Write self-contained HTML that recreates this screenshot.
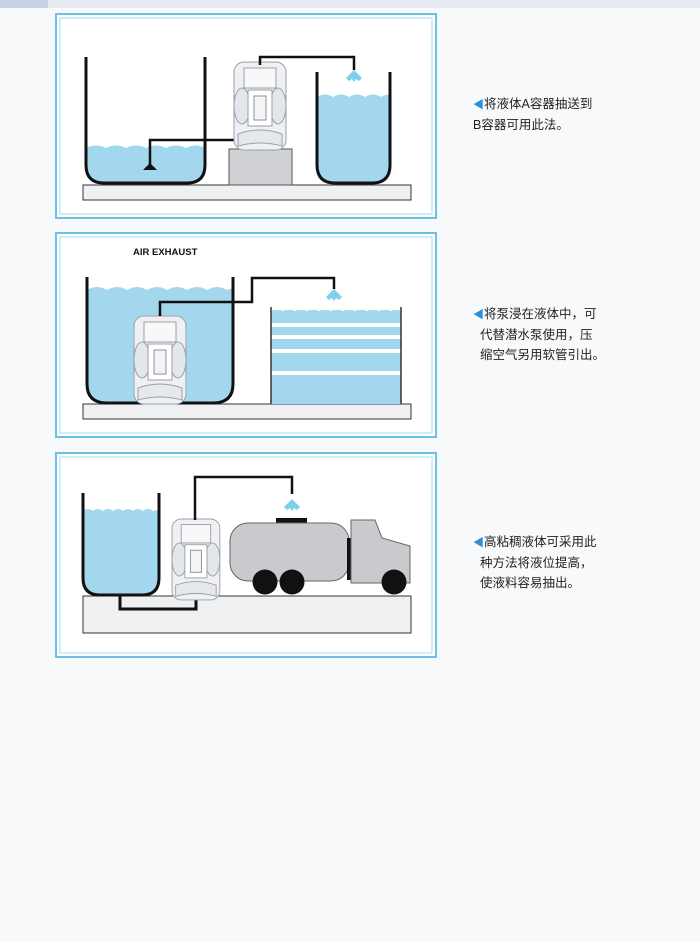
<!DOCTYPE html>
<html><head><meta charset="utf-8"><style>
html,body{margin:0;padding:0;width:700px;height:942px;background:#f8f9fb;overflow:hidden}
.t{position:absolute;left:473px;font:12.5px "Liberation Sans","Noto Sans CJK SC",sans-serif;color:#222;line-height:20px}
.a{color:#2a8fd8;font-size:11px}
</style></head><body>
<svg width="700" height="942" style="position:absolute;left:0;top:0">
<defs>
<g id="pump">
<rect x="0" y="0" width="52" height="88" rx="10" fill="#eef0f3" stroke="#9aa0a8" stroke-width="1"/>
<rect x="10" y="6" width="32" height="20" fill="#f8f8f8" stroke="#9aa0a8"/>
<ellipse cx="8" cy="44" rx="8" ry="18" fill="#e3e6ea" stroke="#9aa0a8"/>
<ellipse cx="44" cy="44" rx="8" ry="18" fill="#e3e6ea" stroke="#9aa0a8"/>
<rect x="14" y="28" width="24" height="36" fill="#fff" stroke="#9aa0a8"/>
<rect x="20" y="34" width="12" height="24" fill="#f4f4f4" stroke="#8a9098"/>
<path d="M4 72 Q26 64 48 72 L48 84 Q26 78 4 84Z" fill="#e6e8ec" stroke="#9aa0a8"/>
</g>
<path id="spray" d="M0 0 L-8 8 L-5 11 L-2 9 L0 12 L2 9 L5 11 L8 8Z" fill="#7fd0ea"/>
</defs>
<rect x="0" y="0" width="700" height="8" fill="#e6ebf3"/>
<rect x="0" y="0" width="48" height="8" fill="#c5d2ea"/>

<!-- Panel 1 -->
<rect x="56" y="14" width="380" height="204" fill="#fff" stroke="#6cc0e4" stroke-width="2"/>
<rect x="60" y="18" width="372" height="196" fill="none" stroke="#a6dbef" stroke-width="1"/>
<rect x="83" y="185" width="328" height="15" fill="#eef0f2" stroke="#333" stroke-width="1"/>
<path d="M86 148 Q96 143 106 148 Q116 143 126 148 Q136 143 146 148 Q156 143 166 148 Q176 143 186 148 Q196 143 205 148 V165 Q205 183 187 183 H104 Q86 183 86 165Z" fill="#a3d7ee"/>
<path d="M86 57 V165 Q86 183 104 183 H187 Q205 183 205 165 V57" fill="none" stroke="#111" stroke-width="3"/>
<path d="M150 168 V140 H262" fill="none" stroke="#111" stroke-width="2.5"/>
<path d="M143 170 L150 163 L157 170Z" fill="#111"/>
<rect x="229" y="149" width="63" height="36" fill="#cfd1d4" stroke="#555"/>
<use href="#pump" x="234" y="62"/>
<path d="M260 65 V57 H354 V70" fill="none" stroke="#111" stroke-width="2.5"/>
<use href="#spray" x="354" y="70"/>
<path d="M317 97 Q325 92 333 97 Q341 92 349 97 Q357 92 365 97 Q373 92 381 97 Q387 93 390 96 V165 Q390 183 372 183 H335 Q317 183 317 165Z" fill="#a3d7ee"/>
<path d="M317 72 V165 Q317 183 335 183 H372 Q390 183 390 165 V72" fill="none" stroke="#111" stroke-width="3"/>

<!-- Panel 2 -->
<rect x="56" y="233" width="380" height="204" fill="#fff" stroke="#6cc0e4" stroke-width="2"/>
<rect x="60" y="237" width="372" height="196" fill="none" stroke="#a6dbef" stroke-width="1"/>
<text x="133" y="255" font-family="Liberation Sans,sans-serif" font-weight="bold" font-size="9.5" fill="#111">AIR EXHAUST</text>
<rect x="83" y="404" width="328" height="15" fill="#eef0f2" stroke="#333"/>
<path d="M87 290 Q97 284 107 290 Q117 284 127 290 Q137 284 147 290 Q157 284 167 290 Q177 284 187 290 Q197 284 207 290 Q217 284 227 290 L233 288 V384 Q233 403 213 403 H107 Q87 403 87 384Z" fill="#a3d7ee"/>
<path d="M87 277 V384 Q87 403 107 403 H213 Q233 403 233 384 V277" fill="none" stroke="#111" stroke-width="3"/>
<use href="#pump" x="134" y="316"/>
<path d="M160 316 V302 H252 V278 H334 V289" fill="none" stroke="#111" stroke-width="2.5"/>
<use href="#spray" x="334" y="289"/>
<rect x="271" y="310" width="130" height="94" fill="#a3d7ee"/>
<path d="M271 310 Q277 306 283 310 Q289 306 295 310 Q301 306 307 310 Q313 306 319 310 Q325 306 331 310 Q337 306 343 310 Q349 306 355 310 Q361 306 367 310 Q373 306 379 310 Q385 306 391 310 Q397 306 401 310" fill="none" stroke="#fff" stroke-width="2"/>
<rect x="271" y="323" width="130" height="4" fill="#fff"/>
<rect x="271" y="335" width="130" height="4" fill="#fff"/>
<rect x="271" y="349" width="130" height="4" fill="#fff"/>
<rect x="271" y="371" width="130" height="4" fill="#fff"/>
<path d="M271 307 V404 M401 307 V404" stroke="#333" stroke-width="1.5"/>

<!-- Panel 3 -->
<rect x="56" y="453" width="380" height="204" fill="#fff" stroke="#6cc0e4" stroke-width="2"/>
<rect x="60" y="457" width="372" height="196" fill="none" stroke="#a6dbef" stroke-width="1"/>
<rect x="83" y="596" width="328" height="37" fill="#eef0f2" stroke="#333"/>
<path d="M83 511 Q88 507 93 511 Q98 507 103 511 Q108 507 113 511 Q118 507 123 511 Q128 507 133 511 Q138 507 143 511 Q148 507 153 511 L159 510 V578 Q159 595 142 595 H100 Q83 595 83 578Z" fill="#a3d7ee"/>
<path d="M83 493 V578 Q83 595 100 595 H142 Q159 595 159 578 V493" fill="none" stroke="#111" stroke-width="3"/>
<path d="M120 595 V609 H196 V590" fill="none" stroke="#111" stroke-width="3"/>
<use href="#pump" x="172" y="519" transform="translate(172 519) scale(0.92) translate(-172 -519)"/>
<path d="M195 520 V477 H292 V494" fill="none" stroke="#111" stroke-width="2.5"/>
<use href="#spray" x="292" y="499"/>
<rect x="276" y="518" width="31" height="6" fill="#111"/>
<rect x="230" y="523" width="119" height="58" rx="18" fill="#c8cacd" stroke="#666"/>
<rect x="347" y="538" width="5" height="42" fill="#111"/>
<path d="M351 520 H375 L382 538 L410 546 V583 H351Z" fill="#c8cacd" stroke="#666"/>
<circle cx="265" cy="582" r="12.5" fill="#111"/>
<circle cx="292" cy="582" r="12.5" fill="#111"/>
<circle cx="394" cy="582" r="12.5" fill="#111"/>
</svg>
<div class="t" style="top:94px"><span class="a">◀</span>将液体A容器抽送到<br>B容器可用此法。</div>
<div class="t" style="top:304px"><span class="a">◀</span>将泵浸在液体中，可<br>&nbsp;&nbsp;代替潜水泵使用，压<br>&nbsp;&nbsp;缩空气另用软管引出。</div>
<div class="t" style="top:532px"><span class="a">◀</span>高粘稠液体可采用此<br>&nbsp;&nbsp;种方法将液位提高，<br>&nbsp;&nbsp;使液料容易抽出。</div>
</body></html>
